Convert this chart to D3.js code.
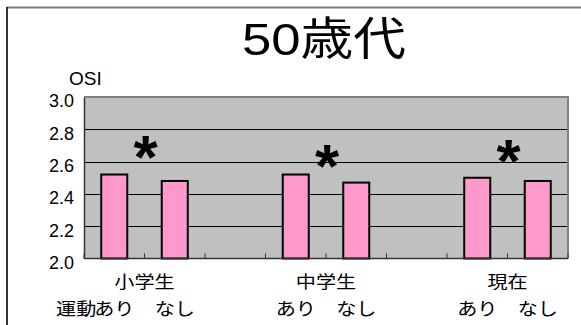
<!DOCTYPE html>
<html>
<head>
<meta charset="utf-8">
<script src="https://cdn.jsdelivr.net/npm/d3@7"></script>
<style>
  html, body { margin: 0; padding: 0; background: #fff; }
  svg { display: block; }
</style>
</head>
<body>
<svg id="chart" width="581" height="325"></svg>
<script>
// Stages of life and exercise groups
const stages = ["小学生", "中学生", "現在"];
const groups = ["あり", "なし"];
// Mean OSI per stage: [exercise, no exercise]
const osiExercise   = [2.52, 2.52, 2.50];
const osiNoExercise = [2.48, 2.47, 2.48];
// Height of the significance marker above each pair
const markerLevel = [2.69, 2.635, 2.665];
const yTicks = [2.0, 2.2, 2.4, 2.6, 2.8, 3.0];
const title = "50歳代";
const yTitle = "OSI";
const firstPrefix = "運動";

const svg = d3.select("#chart");
const W = 581, H = 325;
const plot = { left: 84, right: 568, top: 97, bottom: 258.5 };

// Each stage takes three slots: two bars and a gap
const slots = d3.range(stages.length * 3 - 1);
const x = d3.scaleBand().domain(slots).range([plot.left, plot.right]).padding(0);
const y = d3.scaleLinear().domain([2.0, 3.0]).range([plot.bottom, plot.top]);
const barW = x.bandwidth() * 0.43;

const bars = [];
stages.forEach((s, i) => {
  bars.push({ slot: i * 3, value: osiExercise[i], group: groups[0], stage: i });
  bars.push({ slot: i * 3 + 1, value: osiNoExercise[i], group: groups[1], stage: i });
});

// Outer frame
svg.append("line").attr("x1", 6).attr("x2", W).attr("y1", 7.5).attr("y2", 7.5)
  .attr("stroke", "#808080").attr("stroke-width", 2);
svg.append("line").attr("x1", 7).attr("x2", 7).attr("y1", 7).attr("y2", H)
  .attr("stroke", "#333").attr("stroke-width", 2);

// Title
svg.append("text")
  .attr("x", 242).attr("y", 55)
  .attr("textLength", 164).attr("lengthAdjust", "spacingAndGlyphs")
  .attr("font-family", "'Liberation Sans', 'Noto Sans CJK JP', sans-serif")
  .attr("font-size", 45).attr("fill", "#000")
  .text(title);

// Plot background
svg.append("rect")
  .attr("x", plot.left).attr("y", plot.top)
  .attr("width", plot.right - plot.left).attr("height", plot.bottom - plot.top)
  .attr("fill", "#c0c0c0");

// Gridlines
svg.append("g").selectAll("line").data(yTicks.slice(1, -1)).join("line")
  .attr("x1", plot.left).attr("x2", plot.right)
  .attr("y1", d => Math.round(y(d)) + 0.5).attr("y2", d => Math.round(y(d)) + 0.5)
  .attr("stroke", "#000").attr("stroke-width", 1);

// Plot border (top and right)
svg.append("path")
  .attr("d", `M${plot.left},${plot.top}H${plot.right}V${plot.bottom}`)
  .attr("fill", "none").attr("stroke", "#808080").attr("stroke-width", 2);

// Bars
svg.append("g").selectAll("rect").data(bars).join("rect")
  .attr("x", d => x(d.slot) + (x.bandwidth() - barW) / 2)
  .attr("y", d => y(d.value))
  .attr("width", barW)
  .attr("height", d => y(2.0) - y(d.value))
  .attr("fill", "#ff99cc").attr("stroke", "#000").attr("stroke-width", 2);

// Y axis
const yAxis = d3.axisLeft(y).tickValues(yTicks).tickFormat(d3.format(".1f")).tickSize(0).tickPadding(10);
const gy = svg.append("g").attr("transform", `translate(${plot.left},0)`).call(yAxis);
gy.select(".domain").attr("stroke", "#333").attr("stroke-width", 1.5);
gy.selectAll("text")
  .attr("font-family", "'Liberation Sans', Arial, sans-serif")
  .attr("font-size", 18).attr("fill", "#000").attr("dy", "0.55em");

// X axis with inward ticks at slot boundaries
const boundaries = slots.map(s => x(s)).concat([plot.right]);
svg.append("line").attr("x1", plot.left).attr("x2", plot.right)
  .attr("y1", plot.bottom).attr("y2", plot.bottom)
  .attr("stroke", "#333").attr("stroke-width", 1.5);
svg.append("g").selectAll("line").data(boundaries).join("line")
  .attr("x1", d => d).attr("x2", d => d)
  .attr("y1", plot.bottom).attr("y2", plot.bottom - 5)
  .attr("stroke", "#333").attr("stroke-width", 1);

// Y title
svg.append("text").attr("x", 69).attr("y", 85)
  .attr("font-family", "'Liberation Sans', Arial, sans-serif")
  .attr("font-size", 19).attr("fill", "#000").text(yTitle);

// Significance markers
svg.append("g").selectAll("text").data(markerLevel).join("text")
  .attr("x", (d, i) => x(i * 3 + 1) + 1)
  .attr("y", d => y(d) + 31)
  .attr("text-anchor", "middle")
  .attr("font-family", "'Liberation Sans', Arial, sans-serif")
  .attr("font-weight", "bold").attr("font-size", 62).attr("fill", "#000")
  .text("*");

// Stage labels
const cjk = "'Noto Sans CJK JP', sans-serif";
const sx = 1.15;
function scaledText(cx, cy, str, anchor) {
  return svg.append("g").attr("transform", `translate(${cx},${cy}) scale(${sx},1)`)
    .append("text").attr("text-anchor", anchor || "middle")
    .attr("font-family", cjk).attr("font-size", 17.5).attr("fill", "#000")
    .text(str);
}
stages.forEach((s, i) => scaledText(x(i * 3 + 1), 288, s));

// Group labels under each bar
bars.forEach(b => {
  const cx = x(b.slot) + x.bandwidth() / 2;
  scaledText(cx, 315, b.group);
});
// Prefix in front of the first group label
scaledText(x(0) + x.bandwidth() / 2 - 18, 315, firstPrefix, "end");
</script>
</body>
</html>
